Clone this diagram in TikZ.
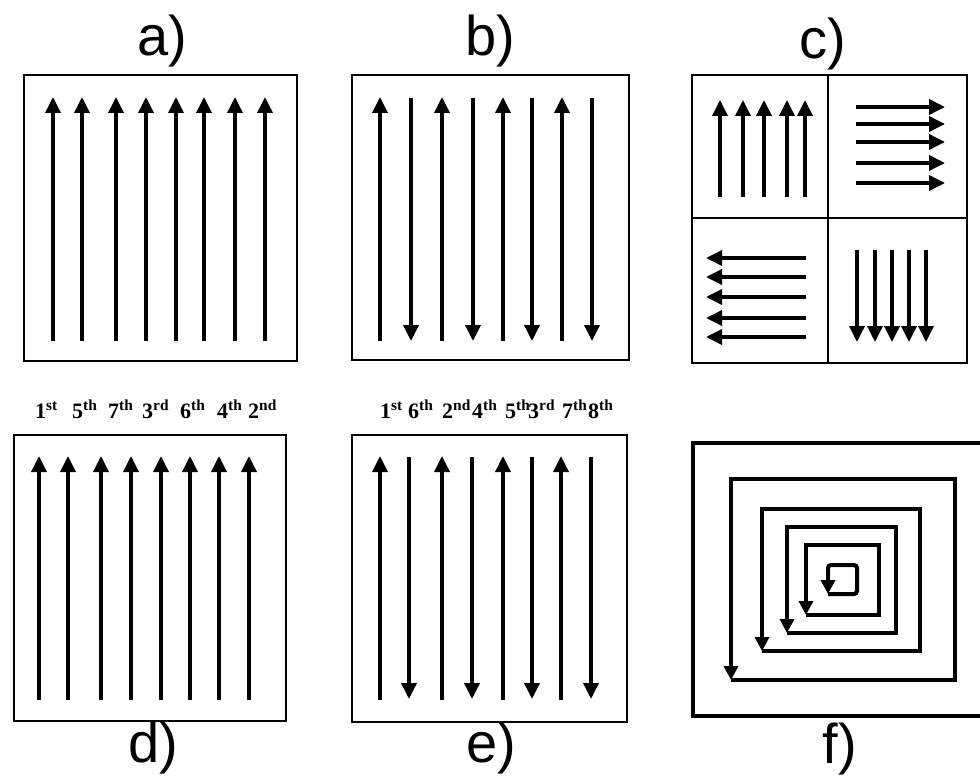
\documentclass[tikz,border=0pt]{standalone}
\usepackage{fontspec}
\setmainfont{Liberation Serif}
\newfontfamily\labfont{Liberation Sans}
\usetikzlibrary{arrows.meta}
\tikzset{
  frame/.style={draw, line width=2.6pt},
  arr/.style={line width=3.5pt, -{Triangle[width=15pt,length=16pt]}},
  sarr/.style={line width=4pt, line join=miter, -{Triangle[width=14pt,length=14pt]}},
  panlab/.style={font=\labfont\fontsize{56}{56}\selectfont, inner sep=0pt, anchor=base},
  ordlab/.style={font=\bfseries\fontsize{22}{22}\selectfont, inner sep=0pt, anchor=base west}
}
\newcommand{\ordn}[2]{#1\textsuperscript{#2}}
\begin{document}
\begin{tikzpicture}[x=1pt,y=-1pt]
\useasboundingbox[fill=white] (0,0) rectangle (980,778);
% panel labels
\node[panlab] (la) at (162,56) {a)};
\node[panlab] (lb) at (490,56) {b)};
\node[panlab] (lc) at (823,59) {c)};
\node[panlab] (ld) at (153,762) {d)};
\node[panlab] (le) at (491,762) {e)};
\node[panlab] (lf) at (840,763) {f)};
% ---- a)
\draw[frame] (24,75) rectangle (297,361);
\foreach \x in {53,82,116,146,176,204,235,265}
  \draw[arr] (\x,341) -- (\x,97);
% ---- b)
\draw[frame] (352,75) rectangle (629,360);
\foreach \x in {380,442,503,562}
  \draw[arr] (\x,341) -- (\x,97);
\foreach \x in {411,473,532,592}
  \draw[arr] (\x,98) -- (\x,341);
% ---- c)
\draw[frame] (692,75) rectangle (967,363);
\draw[frame] (828,75) -- (828,363);
\draw[frame] (692,218) -- (967,218);
\foreach \x in {720,743,764,787,805}
  \draw[arr] (\x,197) -- (\x,100);
\foreach \y in {107,124,142,163,183}
  \draw[arr] (856,\y) -- (945,\y);
\foreach \y in {258,277,297,318,337}
  \draw[arr] (806,\y) -- (706,\y);
\foreach \x in {857,875,892,909,926}
  \draw[arr] (\x,250) -- (\x,342);
% ---- d)
\draw[frame] (14,435) rectangle (286,721);
\foreach \x in {39,68,101,131,161,190,219,249}
  \draw[arr] (\x,700) -- (\x,456);
\node[ordlab] (d1) at (35,418) {\ordn{1}{st}};
\node[ordlab] (d2) at (72,418) {\ordn{5}{th}};
\node[ordlab] (d3) at (108,418) {\ordn{7}{th}};
\node[ordlab] (d4) at (142,418) {\ordn{3}{rd}};
\node[ordlab] (d5) at (180,418) {\ordn{6}{th}};
\node[ordlab] (d6) at (217,418) {\ordn{4}{th}};
\node[ordlab] (d7) at (248,418) {\ordn{2}{nd}};
% ---- e)
\draw[frame] (352,435) rectangle (627,722);
\foreach \x in {380,442,503,561}
  \draw[arr] (\x,700) -- (\x,456);
\foreach \x in {409,472,532,591}
  \draw[arr] (\x,457) -- (\x,699);
\node[ordlab] (e1) at (380,418) {\ordn{1}{st}};
\node[ordlab] (e2) at (408,418) {\ordn{6}{th}};
\node[ordlab] (e3) at (442,418) {\ordn{2}{nd}};
\node[ordlab] (e4) at (472,418) {\ordn{4}{th}};
\node[ordlab] (e5) at (505,418) {\ordn{5}{th}};
\node[ordlab] (e6) at (528,418) {\ordn{3}{rd}};
\node[ordlab] (e7) at (562,418) {\ordn{7}{th}};
\node[ordlab] (e8) at (588,418) {\ordn{8}{th}};
% ---- f)
\draw[line width=4.5pt] (990,443) -- (693,443) -- (693,716) -- (990,716);
\draw[sarr] (731,680) -- (955,680) -- (955,479) -- (731,479) -- (731,680);
\draw[sarr] (762,651) -- (920,651) -- (920,509) -- (762,509) -- (762,651);
\draw[sarr] (787,633) -- (896,633) -- (896,527) -- (787,527) -- (787,633);
\draw[sarr] (806,615) -- (879,615) -- (879,545) -- (806,545) -- (806,615);
\draw[sarr, rounded corners=3pt] (828,594) -- (857,594) -- (857,565) -- (828,565) -- (828,594);
\end{tikzpicture}
\end{document}
